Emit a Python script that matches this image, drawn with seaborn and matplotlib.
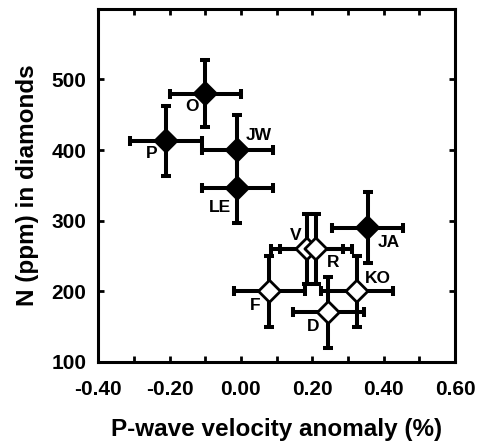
import matplotlib
matplotlib.use("Agg")
import matplotlib.pyplot as plt
import seaborn as sns
import pandas as pd
from matplotlib.ticker import MultipleLocator, FormatStrFormatter

# sample values
labels = ["O", "P", "JW", "LE", "JA", "V", "R", "F", "KO", "D"]
velocity = [-0.10, -0.21, -0.01, -0.01, 0.355, 0.185, 0.21, 0.08, 0.325, 0.245]
nitrogen = [480, 413, 400, 346, 290, 260, 260, 200, 200, 170]
vel_err = [0.10, 0.10, 0.10, 0.10, 0.10, 0.10, 0.10, 0.10, 0.10, 0.10]
n_err = [48, 50, 50, 50, 50, 50, 50, 50, 50, 50]
group = ["filled", "filled", "filled", "filled", "filled",
         "open", "open", "open", "open", "open"]

df = pd.DataFrame({"label": labels, "vel": velocity, "N": nitrogen,
                   "xerr": vel_err, "yerr": n_err, "group": group})

# label offsets in pixels (dx, dy up)
label_offsets = {"O": (-13, -13), "P": (-14, -13), "JW": (21, 15), "LE": (-17, -19),
                 "JA": (21, -15), "V": (-11, 13), "R": (17, -14), "F": (-14, -14),
                 "KO": (21, 13), "D": (-15, -14)}

sns.set_style("ticks")
plt.rcParams["font.family"] = ["Liberation Sans", "DejaVu Sans"]
plt.rcParams["font.weight"] = "bold"
for key in ["text.color", "axes.labelcolor", "xtick.color", "ytick.color", "axes.edgecolor"]:
    plt.rcParams[key] = "black"

fig = plt.figure(figsize=(4.79, 4.44), dpi=100)
ax = fig.add_axes([0.205, 0.185, 0.745, 0.795])

ax.errorbar(df["vel"], df["N"], xerr=df["xerr"], yerr=df["yerr"], fmt="none",
            ecolor="black", elinewidth=2.9, capsize=3.6, capthick=2.9, zorder=2)

sns.scatterplot(data=df, x="vel", y="N", hue="group", style="group",
                palette={"filled": "black", "open": "white"},
                markers={"filled": "D", "open": "D"}, s=125,
                edgecolor="black", linewidth=2, legend=False, zorder=3, ax=ax)

for lab, x, y in zip(df["label"], df["vel"], df["N"]):
    ax.annotate(lab, (x, y), xytext=label_offsets[lab], textcoords="offset pixels",
                ha="center", va="center", fontsize=12.5, fontweight="bold")

ax.set_xlim(-0.40, 0.60)
ax.set_ylim(100, 600)
ax.xaxis.set_major_locator(MultipleLocator(0.2))
ax.xaxis.set_minor_locator(MultipleLocator(0.1))
ax.xaxis.set_major_formatter(FormatStrFormatter("%.2f"))
ax.set_yticks([100, 200, 300, 400, 500])
ax.tick_params(which="both", direction="in", top=True, right=True,
               width=2, length=4, labelsize=15)
ax.tick_params(axis="x", pad=13)
ax.tick_params(axis="y", pad=8.5)
for s in ax.spines.values():
    s.set_linewidth(2.2)

ax.set_xlabel("P-wave velocity anomaly (%)", fontsize=17.5, fontweight="bold", labelpad=14)
ax.set_ylabel("N (ppm) in diamonds", fontsize=17.5, fontweight="bold", labelpad=9)

fig.savefig("out.png", dpi=100)
